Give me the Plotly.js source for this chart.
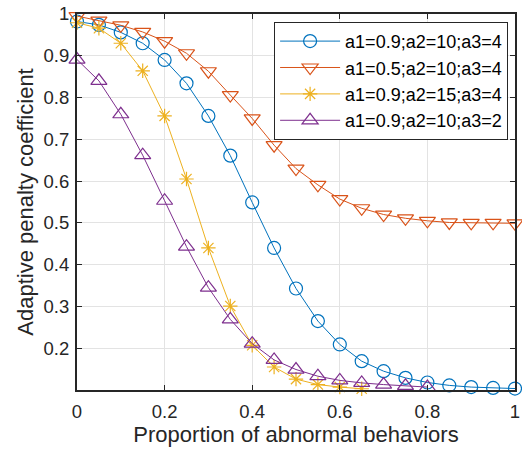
<!DOCTYPE html>
<html>
<head>
<meta charset="utf-8">
<script src="https://cdn.plot.ly/plotly-3.0.1.min.js"></script>
<style>html,body{margin:0;padding:0;background:#fff;}#chart{width:522px;height:452px;}</style>
</head>
<body>
<div id="chart"></div>
<script>
const seriesNames = ["a1=0.9;a2=10;a3=4", "a1=0.5;a2=10;a3=4", "a1=0.9;a2=15;a3=4", "a1=0.9;a2=10;a3=2"];
const xBlue = [0,0.05,0.1,0.15,0.2,0.25,0.3,0.35,0.4,0.45,0.5,0.55,0.6,0.65,0.7,0.75,0.8,0.85,0.9,0.95,1];
const yBlue = [0.982,0.974,0.956,0.930,0.890,0.834,0.756,0.661,0.549,0.440,0.343,0.265,0.209,0.169,0.145,0.129,0.118,0.111,0.107,0.105,0.1035];
const xRed = [0,0.05,0.1,0.15,0.2,0.25,0.3,0.35,0.4,0.45,0.5,0.55,0.6,0.65,0.7,0.75,0.8,0.85,0.9,0.95,1];
const yRed = [0.995,0.984,0.973,0.957,0.935,0.906,0.863,0.806,0.750,0.686,0.630,0.591,0.557,0.535,0.520,0.511,0.505,0.501,0.500,0.500,0.499];
const xYellow = [0,0.05,0.1,0.15,0.2,0.25,0.3,0.35,0.4,0.45,0.5,0.55,0.6,0.65];
const yYellow = [0.979,0.966,0.930,0.864,0.756,0.605,0.440,0.301,0.207,0.155,0.126,0.113,0.107,0.103];
const xPurple = [0,0.05,0.1,0.15,0.2,0.25,0.3,0.35,0.4,0.45,0.5,0.55,0.6,0.65,0.7,0.75,0.8];
const yPurple = [0.891,0.840,0.760,0.662,0.553,0.443,0.345,0.269,0.211,0.172,0.149,0.133,0.123,0.117,0.113,0.110,0.107];
const xTickVals = [0,0.2,0.4,0.6,0.8,1];
const xTickText = ["0","0.2","0.4","0.6","0.8","1"];
const yTickVals = [0.2,0.3,0.4,0.5,0.6,0.7,0.8,0.9,1];
const yTickText = ["0.2","0.3","0.4","0.5","0.6","0.7","0.8","0.9","1"];

const colors = ["#0072BD","#D95319","#EDB120","#7E2F8E"];
const symbols = ["circle-open","triangle-down-open","asterisk-open","triangle-up-open"];
const sizes = [13,14,12,14];
const xs = [xBlue,xRed,xYellow,xPurple];
const ys = [yBlue,yRed,yYellow,yPurple];

const traces = seriesNames.map((n,i)=>({
  x: xs[i], y: ys[i], name: n, type: 'scatter', mode: 'lines+markers',
  line: {color: colors[i], width: 1},
  marker: {symbol: symbols[i], size: sizes[i], color: colors[i], line: {color: colors[i], width: 1.2}},
  cliponaxis: false
}));

const fam = 'Liberation Sans, Arial, sans-serif';
const axisCommon = {
  showline: true, linecolor: '#262626', linewidth: 2, mirror: 'ticks',
  ticks: 'inside', ticklen: 5, tickwidth: 1, tickcolor: '#262626',
  showgrid: true, gridcolor: '#e3e3e3', gridwidth: 1, zeroline: false,
  tickfont: {family: fam, size: 18.5, color: '#262626'}
};

const layout = {
  width: 522, height: 452,
  margin: {l: 77, r: 7, t: 14, b: 62},
  paper_bgcolor: '#fff', plot_bgcolor: '#fff',
  font: {family: fam, color: '#262626'},
  xaxis: Object.assign({}, axisCommon, {
    range: [0, 1], tickvals: xTickVals, ticktext: xTickText, ticklabelstandoff: 4,
    title: {text: 'Proportion of abnormal behaviors', font: {family: fam, size: 22, color: '#262626'}, standoff: 4}
  }),
  yaxis: Object.assign({}, axisCommon, {
    range: [0.1, 1], tickvals: yTickVals, ticktext: yTickText, ticklabelstandoff: 2,
    title: {text: 'Adaptive penalty coefficient', font: {family: fam, size: 22, color: '#262626'}, standoff: 4}
  }),
  showlegend: true,
  legend: {
    x: 0.45, y: 0.979, xanchor: 'left', yanchor: 'top',
    bgcolor: '#fff', bordercolor: '#262626', borderwidth: 1,
    font: {family: fam, size: 18, color: '#000'},
    tracegroupgap: 0, itemwidth: 60
  }
};

Plotly.newPlot('chart', traces, layout, {displayModeBar: false, staticPlot: true});
</script>
</body>
</html>
